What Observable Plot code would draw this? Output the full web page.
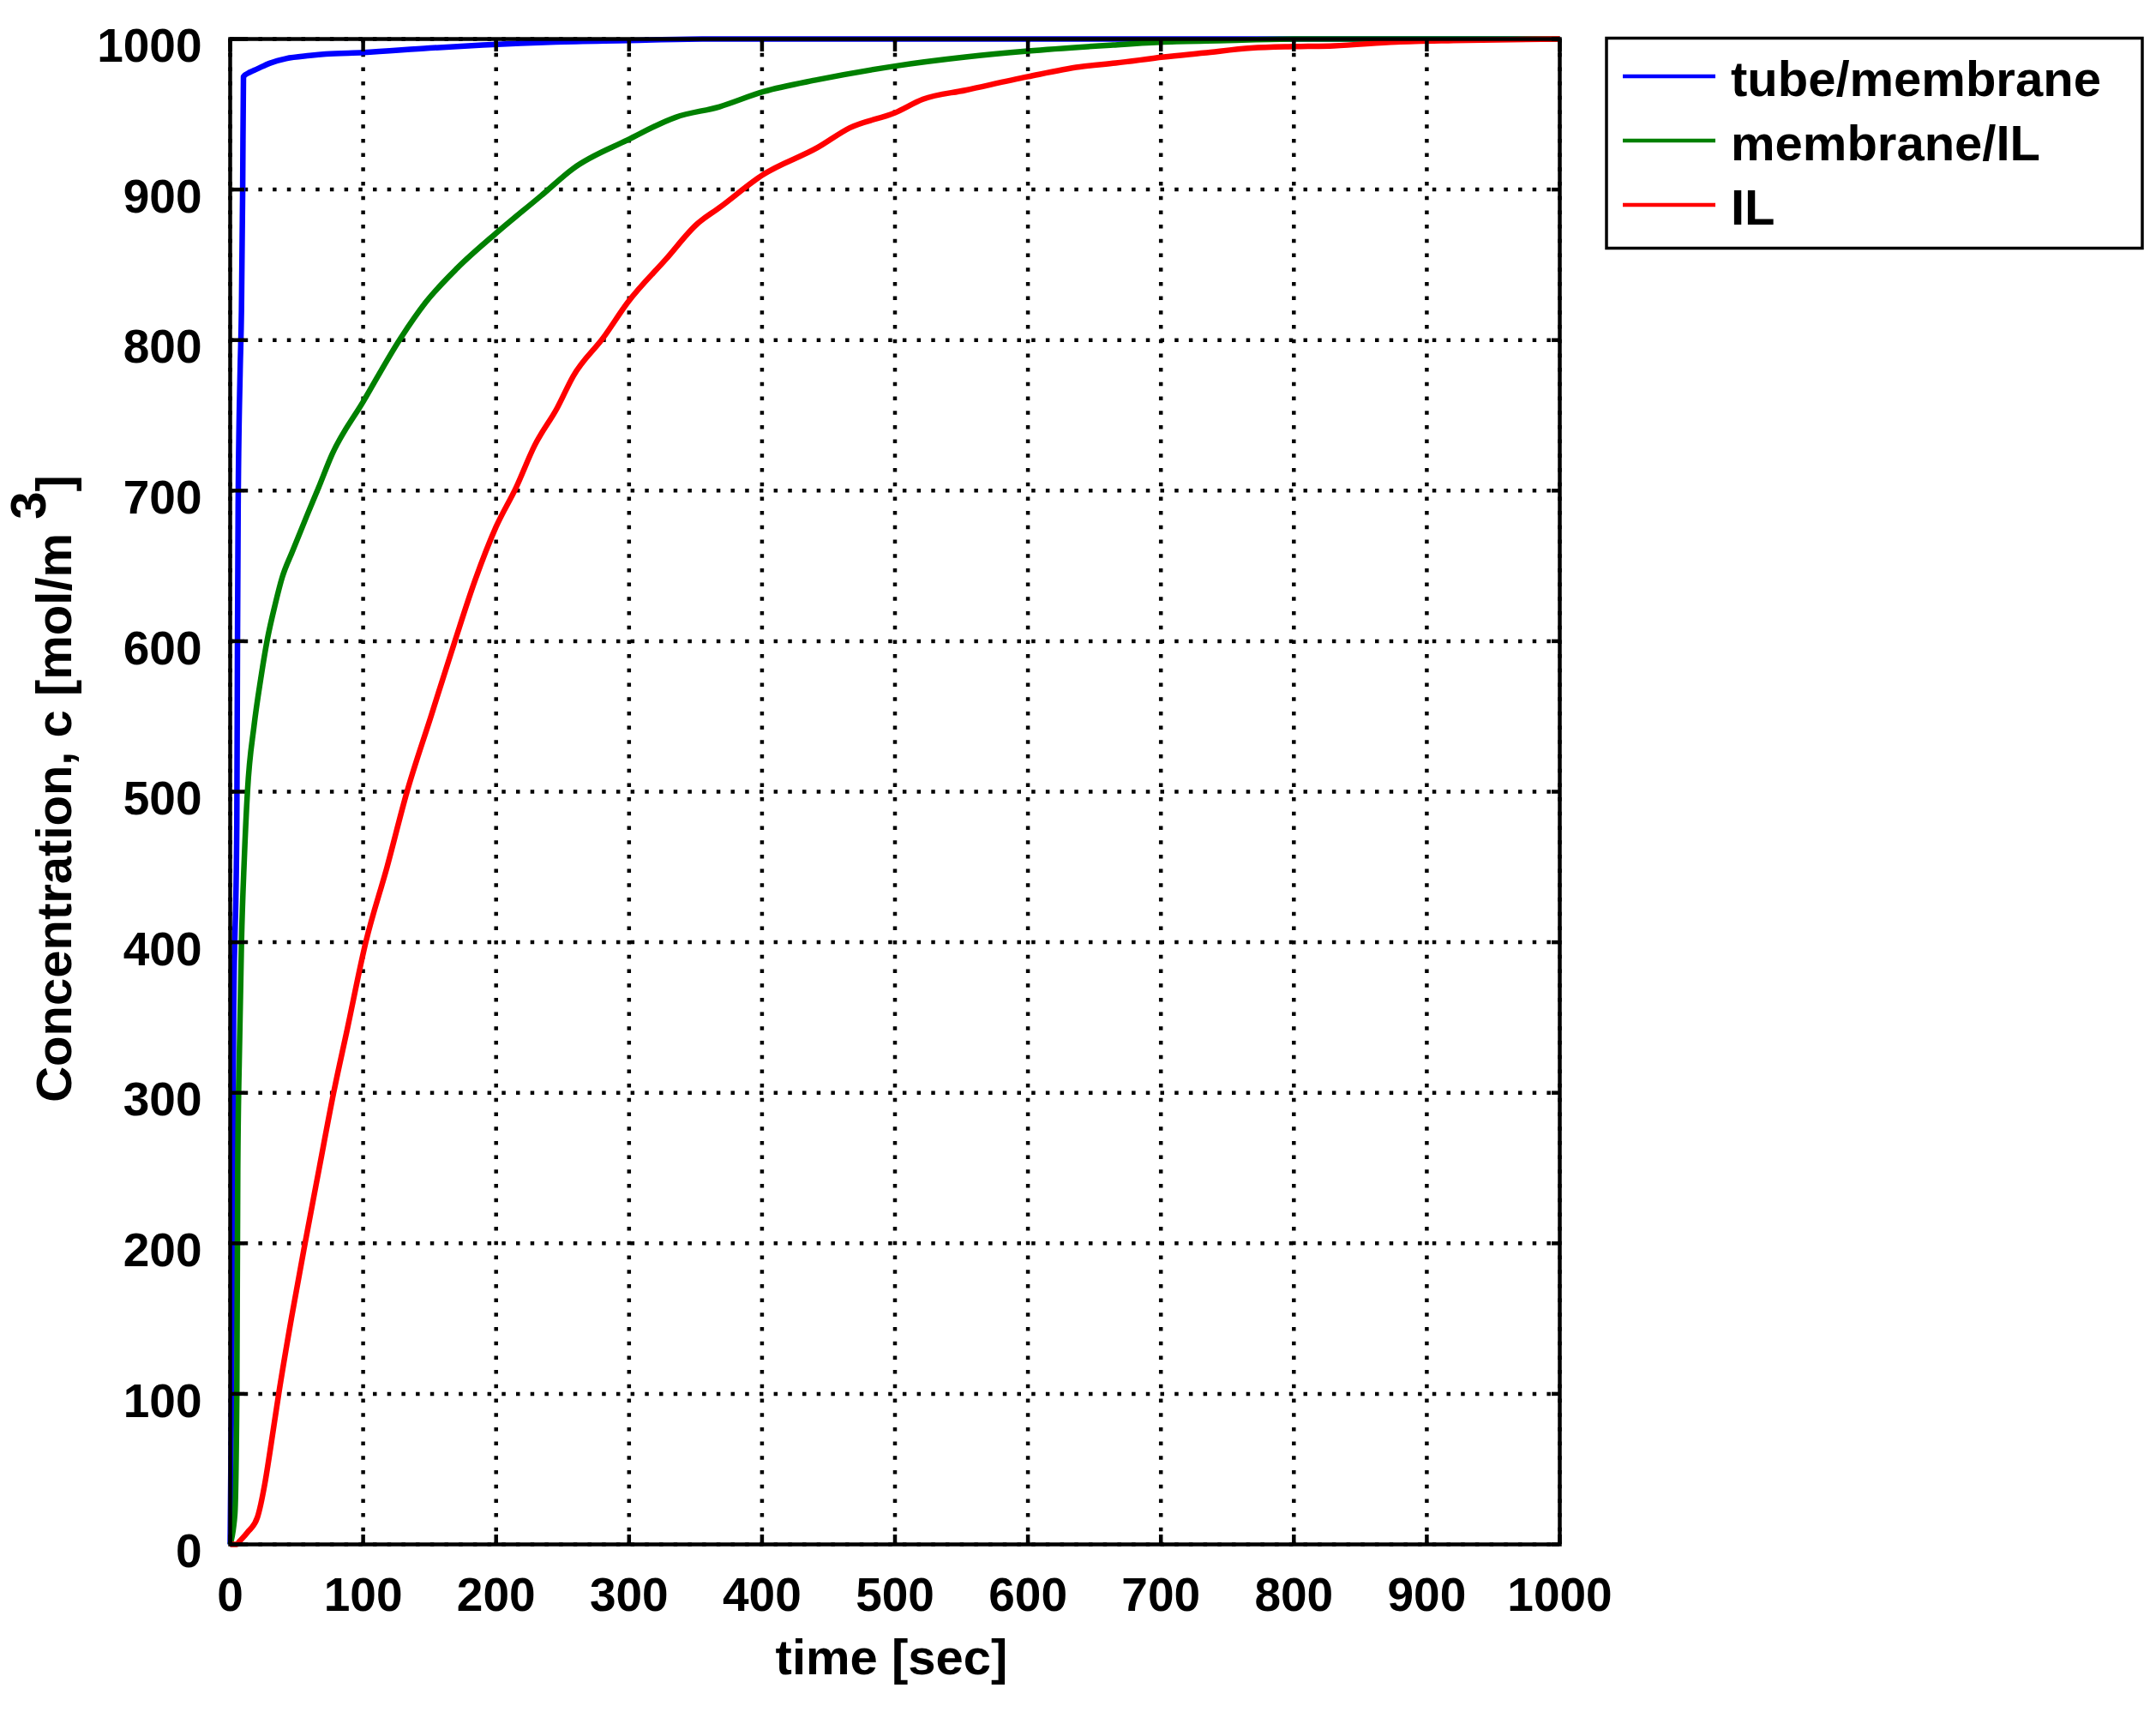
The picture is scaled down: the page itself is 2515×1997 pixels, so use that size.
<!DOCTYPE html>
<html>
<head>
<meta charset="utf-8">
<script src="https://cdn.jsdelivr.net/npm/d3@7"></script>
<script src="https://cdn.jsdelivr.net/npm/@observablehq/plot@0.6"></script>
<style>
  html, body { margin: 0; padding: 0; background: #fff; }
  #chart svg { display: block; }
</style>
</head>
<body>
<div id="chart"></div>
<script>
// ---------- data ----------
const xTicks = [0, 100, 200, 300, 400, 500, 600, 700, 800, 900, 1000];
const xTickLabels = ["0", "100", "200", "300", "400", "500", "600", "700", "800", "900", "1000"];
const yTicks = [0, 100, 200, 300, 400, 500, 600, 700, 800, 900, 1000];
const yTickLabels = ["0", "100", "200", "300", "400", "500", "600", "700", "800", "900", "1000"];

const seriesNames = ["tube/membrane", "membrane/IL", "IL"];
const seriesColors = ["#0000ff", "#008000", "#ff0000"];

const xTitle = "time [sec]";
const yTitleMain = "Concentration, c [mol/m ";
const yTitleSup = "3";
const yTitleEnd = "]";

const tubeTime = [0, 1.5, 2.5, 5, 5.5, 6, 7.5, 8.5, 9.4, 10, 15, 20, 30, 42, 60, 72, 100, 150, 190, 245, 300, 355, 1000];
const tubeConc = [0, 150, 340, 480, 600, 690, 780, 820, 900, 975, 978, 980, 984, 987, 989, 990, 991, 994, 996, 998, 999, 1000, 1000];

const memTime = [0, 3.5, 5, 5.7, 7, 8.5, 10.6, 13, 18, 23, 27.7, 34, 39, 47, 58, 66.5, 76.6, 100, 128, 147, 171, 200, 234, 258, 299, 335, 368, 401, 442, 500, 553, 600, 664, 702, 750, 800, 1000];
const memConc = [0, 20, 100, 250, 330, 400, 455, 500, 544, 575, 600, 625, 642, 660, 684, 702, 724, 759, 801, 825, 848, 871, 896, 914, 933, 948, 955, 965, 973, 982, 988, 992, 996, 998, 999, 1000, 1000];

const ilTime = [0, 5, 7, 13, 20.5, 26, 30, 36.5, 46, 56.3, 67, 77.8, 88, 102, 118, 133, 151, 169, 184, 200, 215, 229, 246, 258, 281, 299, 328, 351, 368, 401, 442, 466, 500, 521, 553, 600, 639, 666, 702, 732, 768, 801, 830, 877, 920, 1000];
const ilConc = [0, 0, 2, 8, 18, 40, 62, 100, 150, 200, 250, 300, 342, 400, 450, 500, 550, 600, 640, 676, 702, 730, 755, 776, 802, 825, 854, 877, 888, 910, 928, 941, 951, 960, 966, 975, 981.5, 984, 988, 990.7, 994, 995, 995.5, 998, 999, 1000];

// table built from the arrays
const rows = [];
tubeTime.forEach((t, i) => rows.push({series: seriesNames[0], t, c: tubeConc[i]}));
memTime.forEach((t, i) => rows.push({series: seriesNames[1], t, c: memConc[i]}));
ilTime.forEach((t, i) => rows.push({series: seriesNames[2], t, c: ilConc[i]}));

// ---------- layout ----------
const W = 2515, H = 1997;
const mL = 268, mR = 696, mT = 45, mB = 196;
const plotW = W - mL - mR, plotH = H - mT - mB;
const FONT = '"Liberation Sans", Arial, Helvetica, sans-serif';

const gridStyle = {stroke: "black", strokeOpacity: 1, strokeWidth: 4.5, strokeDasharray: "4.5 12.2"};

const chart = Plot.plot({
  width: W,
  height: H,
  marginLeft: mL,
  marginRight: mR,
  marginTop: mT,
  marginBottom: mB,
  style: {fontFamily: FONT, background: "white", color: "black"},
  x: {domain: [0, 1000]},
  y: {domain: [0, 1000]},
  color: {domain: seriesNames, range: seriesColors},
  marks: [
    Plot.gridX(xTicks, gridStyle),
    Plot.gridY(yTicks, gridStyle),
    Plot.line(rows, {x: "t", y: "c", z: "series", stroke: "series", strokeWidth: 6.5, curve: "monotone-x", strokeLinejoin: "round", strokeLinecap: "butt"}),
    Plot.frame({stroke: "black", strokeWidth: 4.5}),
    // inward ticks on all four sides
    Plot.tickY(yTicks, {y: d => d, insetRight: plotW - 17, stroke: "black", strokeWidth: 4.5}),
    Plot.tickY(yTicks, {y: d => d, insetLeft: plotW - 9, stroke: "black", strokeWidth: 4.5}),
    Plot.tickX(xTicks, {x: d => d, insetBottom: plotH - 15, stroke: "black", strokeWidth: 4.5}),
    Plot.tickX(xTicks, {x: d => d, insetTop: plotH - 11, stroke: "black", strokeWidth: 4.5}),
    Plot.axisX(xTicks, {
      tickSize: 0, tickPadding: 38, fontSize: 55, fontWeight: "bold",
      tickFormat: (d, i) => xTickLabels[i], label: null
    }),
    Plot.axisY(yTicks, {
      tickSize: 0, tickPadding: 33, fontSize: 55, fontWeight: "bold", dy: 9,
      tickFormat: (d, i) => yTickLabels[i], label: null
    })
  ]
});

document.getElementById("chart").appendChild(chart);

// ---------- titles & legend ----------
const svg = d3.select(chart);

// x title
svg.append("text")
  .attr("x", 1040).attr("y", 1953)
  .attr("text-anchor", "middle")
  .attr("font-family", FONT).attr("font-weight", "bold").attr("font-size", 58)
  .attr("fill", "black")
  .text(xTitle);

// y title (rotated, with superscript)
const yt = svg.append("text")
  .attr("transform", "translate(83,920) rotate(-90)")
  .attr("text-anchor", "middle")
  .attr("font-family", FONT).attr("font-weight", "bold").attr("font-size", 58)
  .attr("fill", "black");
yt.append("tspan").text(yTitleMain);
yt.append("tspan").attr("dy", -30).text(yTitleSup);
yt.append("tspan").attr("dy", 30).text(yTitleEnd);

// legend
const lg = svg.append("g").attr("text-anchor", "start");
lg.append("rect")
  .attr("x", 1874).attr("y", 44.5).attr("width", 625).attr("height", 245)
  .attr("fill", "white").attr("stroke", "black").attr("stroke-width", 3.5);
const rowY = [89, 164, 239];
seriesNames.forEach((name, i) => {
  lg.append("line")
    .attr("x1", 1893).attr("x2", 2001)
    .attr("y1", rowY[i]).attr("y2", rowY[i])
    .attr("stroke", seriesColors[i]).attr("stroke-width", 4.5);
  lg.append("text")
    .attr("x", 2019).attr("y", rowY[i] + 23)
    .attr("text-anchor", "start")
    .attr("font-family", FONT).attr("font-weight", "bold").attr("font-size", 58)
    .attr("fill", "black")
    .text(name);
});
</script>
</body>
</html>
